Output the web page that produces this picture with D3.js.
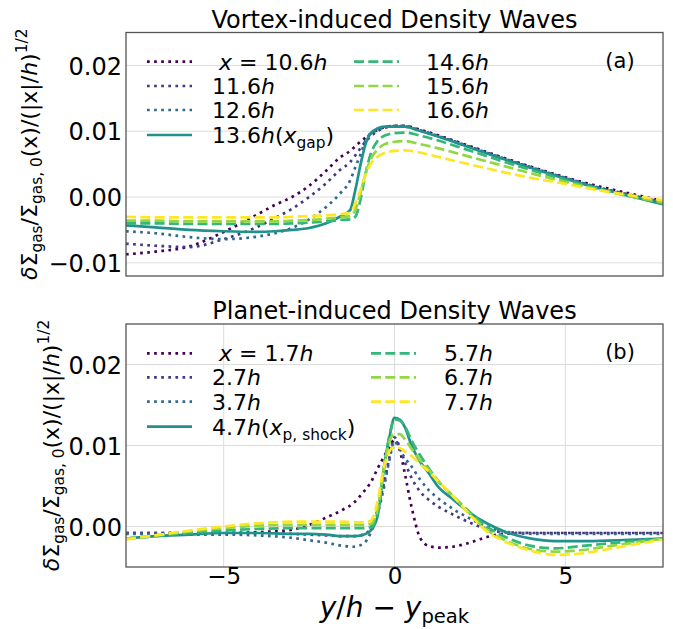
<!DOCTYPE html>
<html>
<head>
<meta charset="utf-8">
<script src="https://cdn.jsdelivr.net/npm/d3@7"></script>
<style>
body { margin: 0; background: #fff; }
text { font-family: "DejaVu Sans", sans-serif; fill: #000; white-space: pre; }
</style>
</head>
<body>
<script>
const width = 673;
const height = 629;

// ---- data: y/h - y_peak samples and normalised density perturbation ----
// (a) vortex-induced waves
const xA = [-7.86, -7, -6, -5, -4, -3.5, -3, -2.5, -2, -1.6, -1.3, -1.15, -1.0, -0.85, -0.7, -0.5, -0.3, 0, 0.3, 0.7, 1.2, 2, 3, 4, 5, 6, 7, 7.86];
const vortex106 = [-0.0087, -0.0083, -0.0075, -0.0053, -0.0026, -0.0012, 0.0000, 0.0017, 0.0040, 0.0060, 0.0070, 0.0077, 0.0084, 0.0090, 0.0096, 0.0102, 0.0106, 0.0108, 0.0108, 0.0103, 0.0095, 0.0081, 0.0063, 0.0046, 0.0030, 0.0016, 0.0004, -0.0006];
const vortex116 = [-0.0071, -0.0074, -0.0076, -0.0064, -0.0045, -0.0032, -0.0018, 0.0000, 0.0021, 0.0041, 0.0053, 0.0063, 0.0074, 0.0084, 0.0092, 0.0100, 0.0105, 0.0107, 0.0107, 0.0102, 0.0094, 0.0080, 0.0062, 0.0045, 0.0029, 0.0014, 0.0002, -0.0008];
const vortex126 = [-0.0052, -0.0055, -0.0061, -0.0064, -0.0060, -0.0055, -0.0047, -0.0034, -0.0015, 0.0005, 0.0025, 0.0045, 0.0064, 0.0086, 0.0096, 0.0102, 0.0106, 0.0108, 0.0108, 0.0102, 0.0094, 0.0080, 0.0062, 0.0045, 0.0029, 0.0014, 0.0002, -0.0009];
const vortex136 = [-0.0043, -0.0046, -0.0050, -0.0052, -0.0053, -0.0052, -0.0050, -0.0047, -0.0040, -0.0030, -0.0020, 0.0010, 0.0048, 0.0080, 0.0097, 0.0104, 0.0107, 0.0107, 0.0107, 0.0101, 0.0093, 0.0079, 0.0061, 0.0044, 0.0028, 0.0013, 0.0000, -0.0011];
const vortex146 = [-0.0040, -0.0040, -0.0041, -0.0041, -0.0041, -0.0041, -0.0040, -0.0039, -0.0037, -0.0035, -0.0034, -0.0030, -0.0005, 0.0035, 0.0065, 0.0085, 0.0093, 0.0097, 0.0098, 0.0094, 0.0087, 0.0074, 0.0057, 0.0041, 0.0026, 0.0012, 0.0000, -0.0010];
const vortex156 = [-0.0036, -0.0036, -0.0037, -0.0037, -0.0037, -0.0037, -0.0036, -0.0035, -0.0033, -0.0031, -0.0029, -0.0020, 0.0005, 0.0035, 0.0057, 0.0072, 0.0080, 0.0084, 0.0085, 0.0081, 0.0075, 0.0064, 0.0050, 0.0036, 0.0023, 0.0011, 0.0000, -0.0008];
const vortex166 = [-0.0030, -0.0031, -0.0031, -0.0031, -0.0031, -0.0031, -0.0030, -0.0029, -0.0028, -0.0026, -0.0024, -0.0010, 0.0010, 0.0033, 0.0050, 0.0061, 0.0067, 0.0070, 0.0071, 0.0068, 0.0062, 0.0052, 0.0040, 0.0029, 0.0020, 0.0010, 0.0002, -0.0005];

// (b) planet-induced waves
const xB = [-7.86, -7, -6, -5, -4, -3, -2.5, -2, -1.5, -1.2, -0.9, -0.7, -0.5, -0.3, -0.15, 0, 0.15, 0.3, 0.5, 0.75, 1, 1.3, 1.7, 2.2, 2.7, 3.2, 4, 4.7, 5.5, 6.5, 7.86];
const planet17 = [-0.0008, -0.0008, -0.0008, -0.0008, -0.0007, -0.0004, 0.0002, 0.0011, 0.0021, 0.0029, 0.0043, 0.0054, 0.0071, 0.0087, 0.0098, 0.0107, 0.0095, 0.0066, 0.0024, -0.0014, -0.0024, -0.0026, -0.0025, -0.0020, -0.0013, -0.0009, -0.0008, -0.0008, -0.0008, -0.0008, -0.0008];
const planet27 = [-0.0008, -0.0008, -0.0008, -0.0008, -0.0008, -0.0009, -0.0010, -0.0011, -0.0012, -0.0012, -0.0010, -0.0002, 0.0020, 0.0055, 0.0085, 0.0110, 0.0098, 0.0080, 0.0060, 0.0043, 0.0033, 0.0024, 0.0015, 0.0005, -0.0003, -0.0007, -0.0008, -0.0008, -0.0008, -0.0008, -0.0008];
const planet37 = [-0.0009, -0.0009, -0.0010, -0.0010, -0.0011, -0.0014, -0.0017, -0.0020, -0.0024, -0.0025, -0.0021, -0.0008, 0.0015, 0.0050, 0.0082, 0.0105, 0.0095, 0.0085, 0.0074, 0.0058, 0.0045, 0.0034, 0.0022, 0.0010, 0.0000, -0.0006, -0.0009, -0.0009, -0.0009, -0.0009, -0.0009];
const planet47 = [-0.0015, -0.0012, -0.0010, -0.0008, -0.0008, -0.0009, -0.0009, -0.0010, -0.0012, -0.0012, -0.0010, -0.0005, 0.0012, 0.0075, 0.0110, 0.0134, 0.0132, 0.0123, 0.0100, 0.0080, 0.0066, 0.0048, 0.0034, 0.0017, 0.0004, -0.0006, -0.0015, -0.0018, -0.0018, -0.0017, -0.0015];
const planet57 = [-0.0015, -0.0012, -0.0008, -0.0005, -0.0003, -0.0002, -0.0002, -0.0002, -0.0002, -0.0002, -0.0002, -0.0001, 0.0015, 0.0075, 0.0112, 0.0132, 0.0131, 0.0124, 0.0106, 0.0088, 0.0072, 0.0055, 0.0038, 0.0018, 0.0000, -0.0012, -0.0024, -0.0027, -0.0024, -0.0020, -0.0015];
const planet67 = [-0.0015, -0.0011, -0.0006, -0.0002, 0.0001, 0.0002, 0.0002, 0.0002, 0.0002, 0.0002, 0.0002, 0.0003, 0.0020, 0.0075, 0.0105, 0.0114, 0.0114, 0.0108, 0.0096, 0.0082, 0.0070, 0.0055, 0.0038, 0.0016, -0.0004, -0.0016, -0.0028, -0.0031, -0.0029, -0.0023, -0.0015];
const planet77 = [-0.0016, -0.0011, -0.0005, 0.0000, 0.0004, 0.0006, 0.0006, 0.0006, 0.0006, 0.0005, 0.0005, 0.0007, 0.0030, 0.0075, 0.0093, 0.0098, 0.0097, 0.0093, 0.0087, 0.0077, 0.0068, 0.0055, 0.0038, 0.0015, -0.0006, -0.0018, -0.0030, -0.0035, -0.0033, -0.0026, -0.0016];

const labelsA = [" x = 10.6h", "11.6h", "12.6h", "13.6h(x_{gap})", "14.6h", "15.6h", "16.6h"];
const labelsB = [" x = 1.7h", "2.7h", "3.7h", "4.7h(x_{p, shock})", "5.7h", "6.7h", "7.7h"];
const yTicksA = [-0.01, 0, 0.01, 0.02];
const yTicksB = [0, 0.01, 0.02];
const xTicks = [-5, 0, 5];

const seriesA = [vortex106, vortex116, vortex126, vortex136, vortex146, vortex156, vortex166];
const seriesB = [planet17, planet27, planet37, planet47, planet57, planet67, planet77];

// ---- styles ----
const color = i => d3.interpolateViridis(i / 6);
const dash = i => i < 3 ? "2.7,4.4" : (i === 3 ? null : "10,4.3");

const svg = d3.select("body").append("svg")
  .attr("width", width)
  .attr("height", height);

const x = d3.scaleLinear().domain([-7.86, 7.86]).range([126, 663]);

// small mathtext-like helper: _{..} subscript, ^{..} superscript, chosen chars italic
function rich(textSel, str, italics, subShift) {
  const fs = parseFloat(textSel.attr("font-size"));
  const parts = [];
  let i = 0;
  while (i < str.length) {
    const c = str[i];
    if ((c === "_" || c === "^") && str[i + 1] === "{") {
      const j = str.indexOf("}", i);
      parts.push({t: str.slice(i + 2, j), k: c === "_" ? "sub" : "sup"});
      i = j + 1;
    } else {
      const k = italics.includes(c) ? "it" : "n";
      const last = parts[parts.length - 1];
      if (last && last.k === k) last.t += c;
      else parts.push({t: c, k: k});
      i++;
    }
  }
  let shift = 0;
  parts.forEach(p => {
    const ts = textSel.append("tspan").text(p.t);
    const target = p.k === "sub" ? (subShift || 0.24) : (p.k === "sup" ? -0.45 : 0);
    if (target !== shift) ts.attr("dy", (target - shift) * fs);
    shift = target;
    if (p.k === "it") ts.attr("font-style", "italic");
    if (p.k === "sub" || p.k === "sup") ts.attr("font-size", fs * 0.7);
  });
}

function panel(cfg) {
  const y = d3.scaleLinear().domain(cfg.domain).range([cfg.bottom, cfg.top]);
  const g = svg.append("g");

  // grid
  g.selectAll(".hgrid").data(cfg.yTicks).enter().append("line")
    .attr("x1", 126).attr("x2", 663)
    .attr("y1", d => y(d)).attr("y2", d => y(d))
    .attr("stroke", "#dcdcdc").attr("stroke-width", 1);
  if (cfg.vgrid) {
    g.selectAll(".vgrid").data(xTicks).enter().append("line")
      .attr("x1", d => x(d)).attr("x2", d => x(d))
      .attr("y1", cfg.top).attr("y2", cfg.bottom)
      .attr("stroke", "#dcdcdc").attr("stroke-width", 1);
  }

  // curves
  const clipId = "clip" + cfg.name;
  svg.append("clipPath").attr("id", clipId).append("rect")
    .attr("x", 126).attr("y", cfg.top).attr("width", 537).attr("height", cfg.bottom - cfg.top);

  const line = d3.line()
    .x((d, i) => x(cfg.xs[i]))
    .y(d => y(d))
    .curve(d3.curveMonotoneX);

  g.append("g").attr("clip-path", "url(#" + clipId + ")")
    .selectAll("path").data(cfg.series).enter().append("path")
    .attr("d", d => line(d))
    .attr("fill", "none")
    .attr("stroke", (d, i) => color(i))
    .attr("stroke-width", 2.7)
    .attr("stroke-dasharray", (d, i) => dash(i));

  // frame
  g.append("rect")
    .attr("x", 126).attr("y", cfg.top)
    .attr("width", 537).attr("height", cfg.bottom - cfg.top)
    .attr("fill", "none").attr("stroke", "#555").attr("stroke-width", 1.3);

  // y axis
  const ay = g.append("g").attr("transform", "translate(126,0)")
    .call(d3.axisLeft(y).tickValues(cfg.yTicks).tickSize(0).tickPadding(4).tickFormat(d3.format(".2f")));
  ay.select(".domain").remove();
  ay.selectAll("text").attr("font-size", 24).attr("font-family", "DejaVu Sans").attr("dy", "0.36em");

  // x axis
  if (cfg.xaxis) {
    const ax = g.append("g").attr("transform", "translate(0," + cfg.bottom + ")")
      .call(d3.axisBottom(x).tickValues(xTicks).tickSize(0).tickPadding(1).tickFormat(d3.format("d")));
    ax.select(".domain").remove();
    ax.selectAll("text").attr("font-size", 23).attr("font-family", "DejaVu Sans").attr("dy", "0.71em");
  }

  // title
  g.append("text").attr("x", 394.5).attr("y", cfg.top - 5)
    .attr("text-anchor", "middle").attr("font-size", 24)
    .text(cfg.title);

  // panel tag
  g.append("text").attr("x", 620).attr("y", cfg.top + 35)
    .attr("text-anchor", "middle").attr("font-size", 21)
    .text(cfg.tag);

  // y label
  const yl = g.append("text")
    .attr("transform", "translate(" + cfg.ylabelX + "," + ((cfg.top + cfg.bottom) / 2) + ") rotate(-90)")
    .attr("text-anchor", "middle").attr("font-size", 22);
  rich(yl, "δΣ_{gas}/Σ_{gas, 0}(x)/(|x|/h)^{1/2}", "δh");

  // legend
  cfg.labels.forEach((lab, i) => {
    const col = i < 4 ? 0 : 1;
    const row = i < 4 ? i : i - 4;
    const hx = col === 0 ? cfg.leg.h1 : cfg.leg.h2;
    const tx = col === 0 ? cfg.leg.t1 : cfg.leg.t2;
    const cy = cfg.leg.rows[row];
    g.append("line")
      .attr("x1", hx).attr("x2", hx + 45)
      .attr("y1", cy).attr("y2", cy)
      .attr("stroke", color(i)).attr("stroke-width", 2.7)
      .attr("stroke-dasharray", dash(i));
    const t = g.append("text").attr("x", tx).attr("y", cy + 8).attr("font-size", 22);
    rich(t, lab, "xh");
  });
}

panel({
  name: "A", xs: xA, series: seriesA, labels: labelsA,
  domain: [-0.012, 0.025], top: 32.5, bottom: 276, yTicks: yTicksA,
  vgrid: false, xaxis: false,
  title: "Vortex-induced Density Waves", tag: "(a)", ylabelX: 37,
  leg: {h1: 147, t1: 212, h2: 354, t2: 426, rows: [61.7, 86, 110, 135]}
});

panel({
  name: "B", xs: xB, series: seriesB, labels: labelsB,
  domain: [-0.005, 0.025], top: 324, bottom: 567, yTicks: yTicksB,
  vgrid: true, xaxis: true,
  title: "Planet-induced Density Waves", tag: "(b)", ylabelX: 59,
  leg: {h1: 147, t1: 212, h2: 371, t2: 444, rows: [353.3, 377.3, 401.7, 426.7]}
});

// x label
const xl = svg.append("text").attr("x", 394.5).attr("y", 617)
  .attr("text-anchor", "middle").attr("font-size", 28);
rich(xl, "y/h − y_{peak}", "yh", 0.2);
</script>
</body>
</html>
